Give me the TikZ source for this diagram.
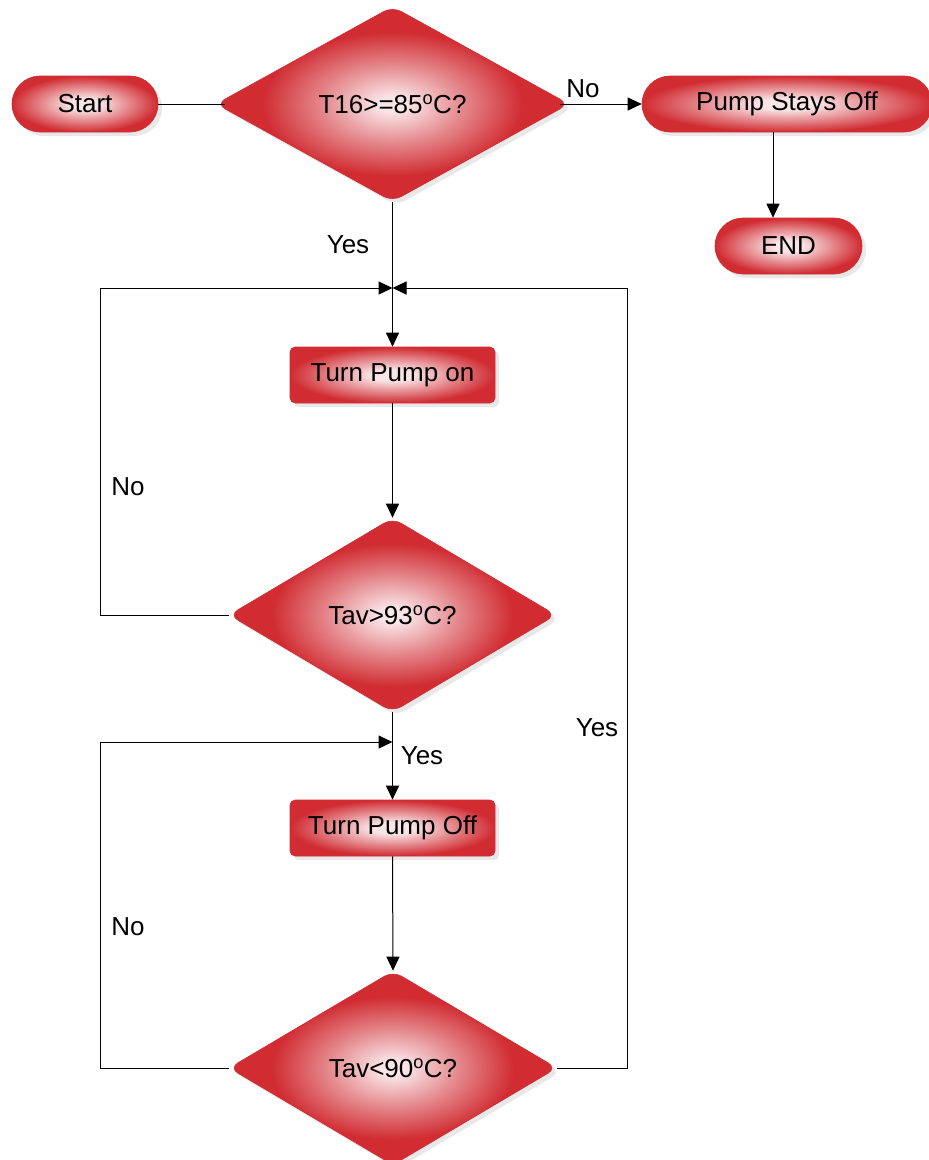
\documentclass[tikz,border=0pt]{standalone}
\usepackage{fontspec}
\setmainfont{Liberation Sans}
\usetikzlibrary{shapes.geometric,shapes.misc,arrows.meta,shadows}

\definecolor{flowred}{RGB}{208,44,50}
\definecolor{flowpink}{RGB}{249,228,230}
\colorlet{flowmid}{flowred!50!flowpink}

% glow fills: light centre fading to red at the rim (bounding box edge = 25bp)
\pgfdeclareradialshading{diaglow}{\pgfpoint{0bp}{0bp}}{color(0bp)=(flowpink); color(2bp)=(flowpink); color(10bp)=(flowmid); color(18.5bp)=(flowred); color(50bp)=(flowred)}
\pgfdeclareradialshading{boxglow}{\pgfpoint{0bp}{0bp}}{color(0bp)=(flowpink); color(5bp)=(flowpink); color(15bp)=(flowmid); color(25bp)=(flowred); color(50bp)=(flowred)}

\begin{document}
\begin{tikzpicture}[x=1pt,y=-1pt,
  txt/.style={font=\fontsize{26}{30}\selectfont},
  base/.style={txt, draw=flowred, line width=0.6pt, inner sep=0pt,
    drop shadow={shadow xshift=4pt, shadow yshift=-4pt, fill=black!60, opacity=0.15}},
  terminal/.style={base, rounded rectangle, shading=boxglow, minimum height=56pt},
  process/.style={base, rectangle, rounded corners=5pt, shading=boxglow,
    minimum width=205pt, minimum height=56pt},
  decision/.style={base, diamond, rounded corners=10pt, shading=diaglow,
    minimum width=327pt, minimum height=194pt},
  link/.style={line width=1pt, black},
  arr/.style={link, -{Triangle[length=14pt,width=13pt]}},
  lbl/.style={txt, inner sep=0pt}]

\useasboundingbox (0,0) rectangle (929,1160);

% shapes
\node[terminal, minimum width=146pt] (start) at (85,104) {Start};
\node[decision, minimum width=353pt, minimum height=195pt] (q1) at (392.5,104) {T16>=85\textsuperscript{o}C?};
\node[terminal, minimum width=290pt] (stay) at (787,104) {Pump Stays Off};
\node[terminal, minimum width=147pt] (end) at (788.5,246) {END};
\node[process] (pon) at (392.5,375) {Turn Pump on};
\node[decision] (q2) at (392.5,615) {Tav>93\textsuperscript{o}C?};
\node[process] (poff) at (392.5,828) {Turn Pump Off};
\node[decision, minimum width=328pt] (q3) at (393,1068) {Tav<90\textsuperscript{o}C?};

% routing points
\coordinate (j1) at (392.5,288);
\coordinate (j2) at (392.5,742);
\coordinate (lx) at (100,0);
\coordinate (rx) at (627,0);
\coordinate (sx) at ([xshift=-14pt]stay.south);

% connectors
\draw[link, shorten >=-9pt] (start.east) -- (q1.west);
\draw[arr, shorten <=-9pt] (q1.east) -- (stay.west);
\draw[arr] (sx) -- (sx |- end.north);
\draw[arr] (q1.south) -- (pon.north);
\draw[arr] (q2.west) -- (q2.west -| lx) -- (j1 -| lx) -- (j1);
\draw[arr] (q3.east) -- (q3.east -| rx) -- (j1 -| rx) -- (j1);
\draw[arr] (pon.south) -- (q2.north);
\draw[arr] (q2.south) -- (poff.north);
\draw[arr] (q3.west) -- (q3.west -| lx) -- (j2 -| lx) -- (j2);
\draw[arr] (poff.south) -- (q3.north);

% branch labels
\node[lbl] (no1) at (583,89) {No};
\node[lbl] (yes1) at (348,245) {Yes};
\node[lbl] (no2) at (128,487) {No};
\node[lbl] (yes2) at (597,728) {Yes};
\node[lbl] (yes3) at (422,756) {Yes};
\node[lbl] (no3) at (128,927) {No};
\end{tikzpicture}
\end{document}
